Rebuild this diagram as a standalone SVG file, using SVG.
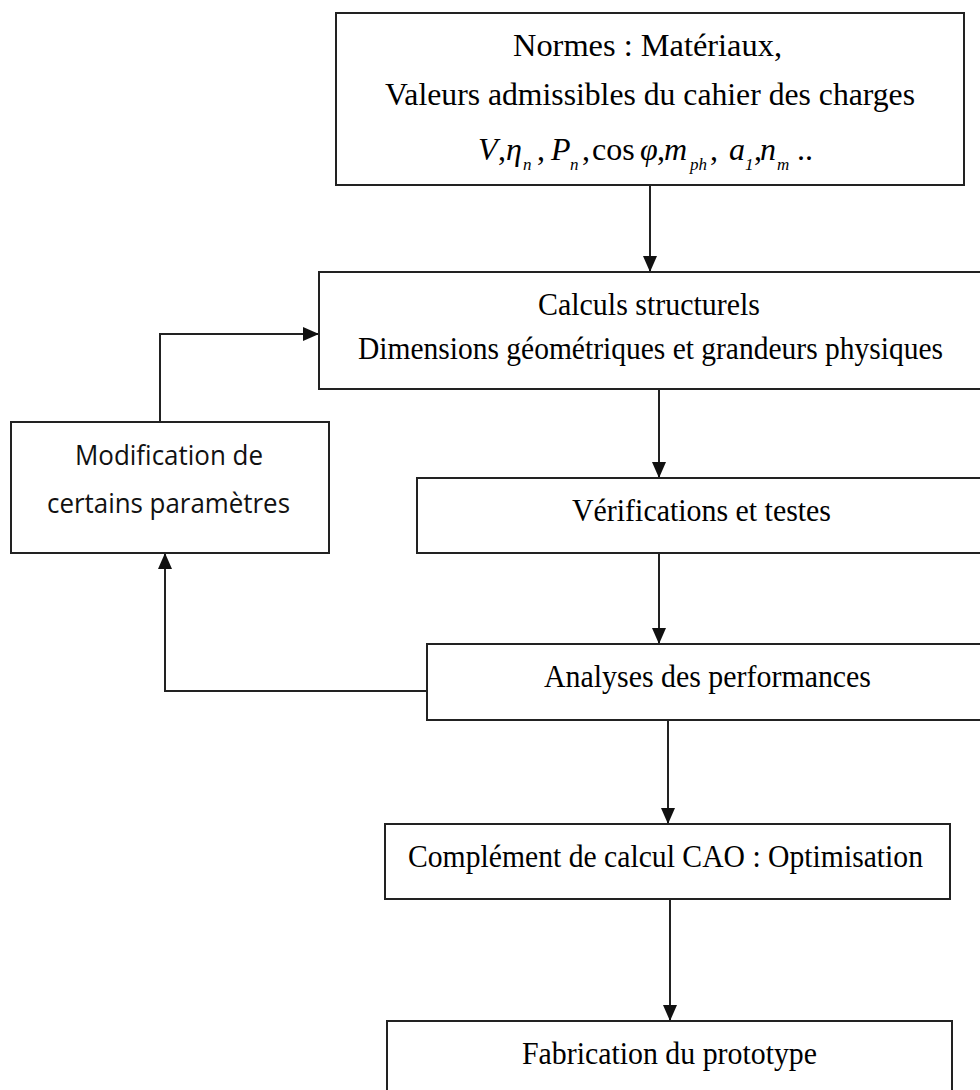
<svg xmlns="http://www.w3.org/2000/svg" width="980" height="1090" viewBox="0 0 980 1090">
<style>
.box{fill:#fff;stroke:#222;stroke-width:2}
.t{font-family:"Liberation Serif","Times New Roman",serif;font-size:32px;fill:#000;text-anchor:start}
.s{font-family:"Open Sans","Liberation Sans",sans-serif;font-size:27px;fill:#111}
.f{font-family:"Liberation Serif","Times New Roman",serif;font-size:32px;fill:#000}
.i{font-style:italic}
.sub{font-size:17px;font-style:italic}
.c{fill:none;stroke:#222;stroke-width:2}
</style>
<defs>
<marker id="ah" markerUnits="userSpaceOnUse" markerWidth="16" markerHeight="14" refX="16" refY="7" orient="auto">
<path d="M0,0 L16,7 L0,14 z" fill="#111"/>
</marker>
</defs>
<rect width="980" height="1090" fill="#fff"/>
<g id="connectors">
<line class="c" x1="650" y1="185" x2="650" y2="272" marker-end="url(#ah)"/>
<line class="c" x1="659" y1="389" x2="659" y2="478" marker-end="url(#ah)"/>
<line class="c" x1="659" y1="553" x2="659" y2="644" marker-end="url(#ah)"/>
<line class="c" x1="668" y1="720" x2="668" y2="824" marker-end="url(#ah)"/>
<line class="c" x1="670" y1="899" x2="670" y2="1021" marker-end="url(#ah)"/>
<polyline class="c" points="427,691 165,691 165,553" marker-end="url(#ah)"/>
<polyline class="c" points="160,422 160,334 319,334" marker-end="url(#ah)"/>
</g>
<g id="normes">
<rect class="box" x="336" y="13" width="628" height="172"/>
<text class="t" x="513" y="56" textLength="269" lengthAdjust="spacingAndGlyphs">Normes : Matériaux,</text>
<text class="t" x="385" y="105" textLength="530" lengthAdjust="spacingAndGlyphs">Valeurs admissibles du cahier des charges</text>
<text class="f" y="160"><tspan class="i" x="478">V</tspan><tspan x="498">,</tspan><tspan class="i" x="506">η</tspan><tspan class="sub" x="523" y="170">n</tspan><tspan x="537" y="160">,</tspan><tspan class="i" x="551">P</tspan><tspan class="sub" x="570" y="170">n</tspan><tspan x="582" y="160">,</tspan><tspan x="592">cos</tspan><tspan class="i" x="640">φ</tspan><tspan x="657">,</tspan><tspan class="i" x="664">m</tspan><tspan class="sub" x="690" y="170">ph</tspan><tspan x="710" y="160">,</tspan><tspan class="i" x="729">a</tspan><tspan class="sub" x="745" y="170">1</tspan><tspan x="754" y="160">,</tspan><tspan class="i" x="760">n</tspan><tspan class="sub" x="777" y="170">m</tspan><tspan x="797" y="160">..</tspan></text>
</g>
<g id="calculs">
<rect class="box" x="319" y="272" width="663" height="117"/>
<text class="t" x="538" y="315" textLength="222" lengthAdjust="spacingAndGlyphs">Calculs structurels</text>
<text class="t" x="358" y="359" textLength="585" lengthAdjust="spacingAndGlyphs">Dimensions géométriques et grandeurs physiques</text>
</g>
<g id="modification">
<rect class="box" x="11" y="422" width="318" height="131"/>
<text class="s" x="75" y="465" textLength="188" lengthAdjust="spacingAndGlyphs">Modification de</text>
<text class="s" x="47" y="513" textLength="243" lengthAdjust="spacingAndGlyphs">certains paramètres</text>
</g>
<g id="verifications">
<rect class="box" x="417" y="478" width="565" height="75"/>
<text class="t" x="572" y="521" textLength="259" lengthAdjust="spacingAndGlyphs">Vérifications et testes</text>
</g>
<g id="analyses">
<rect class="box" x="427" y="644" width="555" height="76"/>
<text class="t" x="544" y="687" textLength="327" lengthAdjust="spacingAndGlyphs">Analyses des performances</text>
</g>
<g id="complement">
<rect class="box" x="385" y="824" width="565" height="75"/>
<text class="t" x="408" y="867" textLength="515" lengthAdjust="spacingAndGlyphs">Complément de calcul CAO : Optimisation</text>
</g>
<g id="fabrication">
<rect class="box" x="387" y="1021" width="565" height="90"/>
<text class="t" x="522" y="1064" textLength="295" lengthAdjust="spacingAndGlyphs">Fabrication du prototype</text>
</g>
</svg>
